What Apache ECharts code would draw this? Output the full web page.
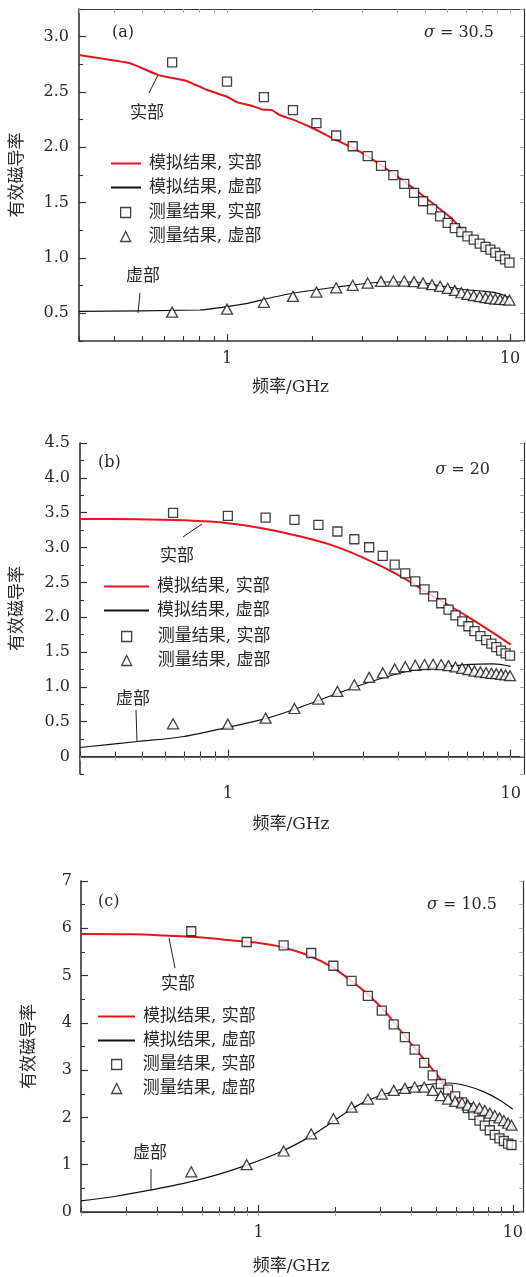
<!DOCTYPE html>
<html>
<head>
<meta charset="utf-8">
<script src="https://cdn.jsdelivr.net/npm/echarts@6/dist/echarts.min.js"></script>
<style>
html,body{margin:0;padding:0;background:#fff}
#chart{width:526px;height:1277px}
</style>
</head>
<body>
<div id="chart"></div>
<script>
// 名称
var NAMES = ['模拟结果, 实部', '模拟结果, 虚部', '测量结果, 实部', '测量结果, 虚部'];

// 刻度
var xMajorTicks = [1, 10];
var xMinorTicksAB = [0.3, 0.4, 0.5, 0.6, 0.7, 0.8, 0.9, 2, 3, 4, 5, 6, 7, 8, 9];
var xMinorTicksC = [0.2, 0.3, 0.4, 0.5, 0.6, 0.7, 0.8, 0.9, 2, 3, 4, 5, 6, 7, 8, 9];
var yMajorA = [0.5, 1.0, 1.5, 2.0, 2.5, 3.0];
var yMinorA = [0.25, 0.75, 1.25, 1.75, 2.25, 2.75, 3.25];
var yMajorB = [0, 0.5, 1.0, 1.5, 2.0, 2.5, 3.0, 3.5, 4.0, 4.5];
var yMinorB = [-0.25, 0.25, 0.75, 1.25, 1.75, 2.25, 2.75, 3.25, 3.75, 4.25];
var yMajorC = [0, 1, 2, 3, 4, 5, 6, 7];
var yMinorC = [0.5, 1.5, 2.5, 3.5, 4.5, 5.5, 6.5];

// (a) sigma = 30.5
var measFreqA = [0.64, 1.0, 1.35, 1.71, 2.07, 2.43, 2.78, 3.14, 3.50, 3.87, 4.23, 4.58, 4.93, 5.30, 5.66, 6.02, 6.38, 6.73, 7.07, 7.44, 7.81, 8.19, 8.52, 8.87, 9.22, 9.60, 9.95];
var measRealA = [2.768, 2.593, 2.454, 2.336, 2.219, 2.107, 2.01, 1.92, 1.833, 1.748, 1.67, 1.588, 1.513, 1.44, 1.377, 1.317, 1.27, 1.235, 1.196, 1.166, 1.13, 1.10, 1.075, 1.048, 1.018, 0.988, 0.958];
var measImagA = [0.511, 0.538, 0.60, 0.653, 0.692, 0.731, 0.753, 0.774, 0.789, 0.792, 0.792, 0.786, 0.774, 0.759, 0.744, 0.726, 0.707, 0.686, 0.671, 0.659, 0.65, 0.641, 0.635, 0.629, 0.626, 0.623, 0.62];
var simFreqRealA = [0.3, 0.366, 0.454, 0.572, 0.63, 0.72, 0.847, 1.0, 1.08, 1.24, 1.34, 1.44, 1.54, 1.71, 2.02, 2.37, 2.8, 3.12, 3.57, 4.08, 4.67, 5.35, 6.13, 6.65, 7.1];
var simRealA = [2.834, 2.80, 2.76, 2.653, 2.63, 2.60, 2.52, 2.457, 2.41, 2.37, 2.34, 2.336, 2.29, 2.25, 2.17, 2.08, 1.99, 1.923, 1.824, 1.72, 1.61, 1.49, 1.37, 1.28, 1.20];
var simFreqImagA = [0.3, 0.8, 1.0, 1.17, 1.38, 1.67, 2.07, 2.72, 3.57, 4.67, 5.82, 7.0, 8.05, 9.2, 10.0];
var simImagA = [0.517, 0.53, 0.56, 0.587, 0.632, 0.677, 0.713, 0.753, 0.783, 0.783, 0.744, 0.713, 0.70, 0.677, 0.638];

// (b) sigma = 20
var measFreqB = [0.64, 1.0, 1.36, 1.72, 2.09, 2.44, 2.80, 3.16, 3.53, 3.89, 4.24, 4.60, 4.96, 5.32, 5.68, 6.03, 6.38, 6.74, 7.09, 7.45, 7.82, 8.19, 8.55, 8.90, 9.25, 9.60, 9.95];
var measRealB = [3.498, 3.455, 3.43, 3.397, 3.325, 3.23, 3.119, 3.004, 2.879, 2.754, 2.63, 2.514, 2.40, 2.30, 2.20, 2.11, 2.025, 1.94, 1.87, 1.80, 1.73, 1.67, 1.62, 1.57, 1.52, 1.48, 1.45];
var measImagB = [0.47, 0.465, 0.552, 0.69, 0.825, 0.936, 1.03, 1.137, 1.20, 1.257, 1.29, 1.31, 1.32, 1.324, 1.32, 1.305, 1.286, 1.267, 1.248, 1.228, 1.214, 1.204, 1.195, 1.19, 1.18, 1.171, 1.161];
var simFreqRealB = [0.3, 0.47, 0.7, 1.0, 1.38, 1.81, 2.37, 3.1, 4.07, 5.34, 7.0, 8.67, 10.0];
var simRealB = [3.41, 3.407, 3.39, 3.35, 3.263, 3.157, 3.023, 2.83, 2.59, 2.30, 2.015, 1.775, 1.607];
var simFreqImagB = [0.3, 0.48, 0.7, 1.0, 1.38, 1.81, 2.37, 3.1, 4.07, 5.06, 5.63, 7.0, 8.67, 10.0];
var simImagB = [0.13, 0.216, 0.288, 0.42, 0.552, 0.71, 0.888, 1.056, 1.20, 1.27, 1.28, 1.32, 1.33, 1.295];

// (c) sigma = 10.5
var measFreqC = [0.543, 0.897, 1.254, 1.61, 1.968, 2.32, 2.69, 3.05, 3.40, 3.76, 4.11, 4.48, 4.84, 5.21, 5.56, 5.93, 6.31, 6.65, 7.0, 7.39, 7.76, 8.12, 8.49, 8.86, 9.22, 9.58, 9.88];
var measRealC = [5.937, 5.71, 5.64, 5.477, 5.208, 4.889, 4.57, 4.258, 3.968, 3.70, 3.436, 3.153, 2.89, 2.707, 2.586, 2.444, 2.317, 2.196, 2.055, 1.934, 1.828, 1.729, 1.63, 1.559, 1.502, 1.445, 1.417];
var measImagC = [0.85, 1.0, 1.29, 1.65, 1.977, 2.218, 2.388, 2.494, 2.572, 2.614, 2.643, 2.643, 2.572, 2.459, 2.388, 2.338, 2.31, 2.26, 2.225, 2.196, 2.147, 2.09, 2.04, 1.99, 1.934, 1.877, 1.835];
var simFreqRealC = [0.2, 0.32, 0.43, 0.58, 0.79, 1.0, 1.24, 1.58, 1.96, 2.34, 2.73, 3.17, 3.58, 4.16, 4.84, 5.63, 6.55, 7.62, 8.86, 10.0];
var simRealC = [5.88, 5.874, 5.845, 5.81, 5.74, 5.69, 5.60, 5.42, 5.17, 4.87, 4.57, 4.216, 3.86, 3.436, 3.01, 2.586, 2.196, 1.863, 1.594, 1.417];
var simFreqImagC = [0.2, 0.274, 0.371, 0.502, 0.679, 0.897, 1.24, 1.61, 1.96, 2.32, 2.69, 3.08, 3.58, 4.16, 4.84, 5.63, 6.55, 7.62, 8.86, 10.0];
var simImagC = [0.234, 0.333, 0.46, 0.60, 0.78, 0.99, 1.29, 1.61, 1.913, 2.18, 2.36, 2.48, 2.586, 2.657, 2.707, 2.728, 2.67, 2.55, 2.37, 2.175];

var SERIF = '"DejaVu Serif", "Noto Sans CJK SC", serif';
var TXT = '#2a2a2a';

function pairs(xs, ys) {
  return xs.map(function (x, i) { return [x, ys[i]]; });
}

var panels = [
  {
    grid: {left: 79, top: 9, width: 445, height: 332},
    xMin: 0.3, xMax: 11.2, xMinor: xMinorTicksAB,
    yMin: 0.25, yMax: 3.25, yMajor: yMajorA, yMinor: yMinorA,
    yFmt: function (v) { return v.toFixed(1); },
    xMargin: 10, xNameGap: 38, yNameGap: 53, yMargin: 10,
    legend: {left: 110, top: 155, itemWidth: 30, mLeft: 120, mTop: 204, mPad: 13},
    simReal: pairs(simFreqRealA, simRealA), simImag: pairs(simFreqImagA, simImagA),
    measReal: pairs(measFreqA, measRealA), measImag: pairs(measFreqA, measImagA),
    smooth: 0.15
  },
  {
    grid: {left: 80, top: 443, width: 444, height: 331},
    xMin: 0.3, xMax: 11.15, xMinor: xMinorTicksAB,
    yMin: -0.25, yMax: 4.5, yMajor: yMajorB, yMinor: yMinorB,
    yFmt: function (v) { return v === 0 ? '0' : v.toFixed(1); },
    xMargin: 12, xNameGap: 42, yNameGap: 54, yMargin: 10,
    legend: {left: 103, top: 578, itemWidth: 45, mLeft: 121, mTop: 628, mPad: 21},
    simReal: pairs(simFreqRealB, simRealB), simImag: pairs(simFreqImagB, simImagB),
    measReal: pairs(measFreqB, measRealB), measImag: pairs(measFreqB, measImagB),
    smooth: 0.3
  },
  {
    grid: {left: 81, top: 881, width: 443, height: 331},
    xMin: 0.2, xMax: 11, xMinor: xMinorTicksC,
    yMin: 0, yMax: 7, yMajor: yMajorC, yMinor: yMinorC,
    yFmt: function (v) { return String(v); },
    xMargin: 13, xNameGap: 46, yNameGap: 43, yMargin: 9,
    legend: {left: 97, top: 1008, itemWidth: 37, mLeft: 111, mTop: 1056, mPad: 16},
    simReal: pairs(simFreqRealC, simRealC), simImag: pairs(simFreqImagC, simImagC),
    measReal: pairs(measFreqC, measRealC), measImag: pairs(measFreqC, measImagC),
    smooth: 0.3
  }
];

var grids = [], xAxes = [], yAxes = [], series = [], legends = [];

panels.forEach(function (p, i) {
  grids.push(p.grid);
  var allX = xMajorTicks.concat(p.xMinor);
  var allY = p.yMajor.concat(p.yMinor);
  // 下轴（标签 + 主刻度）
  xAxes.push({
    gridIndex: i, type: 'log', logBase: 10, min: p.xMin, max: p.xMax, position: 'bottom',
    axisLine: {lineStyle: {color: '#333', width: 1.6}},
    axisTick: {inside: true, length: 7, customValues: xMajorTicks, lineStyle: {color: '#333', width: 1.2}},
    axisLabel: {customValues: xMajorTicks, formatter: function (v) { return String(v); },
      fontFamily: SERIF, fontSize: 16, color: TXT, margin: p.xMargin},
    splitLine: {show: false},
    name: '频率/GHz', nameLocation: 'middle', nameGap: p.xNameGap,
    nameTextStyle: {fontFamily: SERIF, fontSize: 17, color: TXT, padding: [0, 22, 0, 0]}
  });
  // 下轴次刻度
  xAxes.push({
    gridIndex: i, type: 'log', logBase: 10, min: p.xMin, max: p.xMax, position: 'bottom',
    axisLine: {show: false},
    axisTick: {inside: true, length: 5, customValues: p.xMinor, lineStyle: {color: '#333', width: 1.1}},
    axisLabel: {show: false}, splitLine: {show: false}
  });
  // 上轴
  xAxes.push({
    gridIndex: i, type: 'log', logBase: 10, min: p.xMin, max: p.xMax, position: 'top',
    axisLine: {lineStyle: {color: '#333', width: 1.2}},
    axisTick: {inside: true, length: 4, customValues: allX, lineStyle: {color: '#aaa', width: 1}},
    axisLabel: {show: false}, splitLine: {show: false}
  });

  yAxes.push({
    gridIndex: i, type: 'value', min: p.yMin, max: p.yMax, position: 'left',
    axisLine: {show: true, lineStyle: {color: '#333', width: 1.6}},
    axisTick: {show: true, inside: true, length: 7, customValues: p.yMajor, lineStyle: {color: '#333', width: 1.2}},
    axisLabel: {customValues: p.yMajor, formatter: p.yFmt, fontFamily: SERIF, fontSize: 16, color: TXT, margin: p.yMargin},
    splitLine: {show: false},
    name: '有效磁导率', nameLocation: 'middle', nameGap: p.yNameGap,
    nameTextStyle: {fontFamily: SERIF, fontSize: 17, color: TXT}
  });
  yAxes.push({
    gridIndex: i, type: 'value', min: p.yMin, max: p.yMax, position: 'left',
    axisLine: {show: false},
    axisTick: {show: true, inside: true, length: 4, customValues: p.yMinor, lineStyle: {color: '#333', width: 1.1}},
    axisLabel: {show: false}, splitLine: {show: false}
  });
  yAxes.push({
    gridIndex: i, type: 'value', min: p.yMin, max: p.yMax, position: 'right',
    axisLine: {show: true, lineStyle: {color: '#333', width: 1.2}},
    axisTick: {show: true, inside: true, length: 4, customValues: allY, lineStyle: {color: '#aaa', width: 1}},
    axisLabel: {show: false}, splitLine: {show: false}
  });

  var xi = 3 * i, yi = 3 * i;
  series.push({
    name: NAMES[0], type: 'line', xAxisIndex: xi, yAxisIndex: yi, data: p.simReal,
    symbol: 'none', smooth: p.smooth, z: 2,
    lineStyle: {color: '#e8141c', width: 2}, itemStyle: {color: '#e8141c'}
  });
  series.push({
    name: NAMES[1], type: 'line', xAxisIndex: xi, yAxisIndex: yi, data: p.simImag,
    symbol: 'none', smooth: p.smooth, z: 2,
    lineStyle: {color: '#111', width: 1.2}, itemStyle: {color: '#111'}
  });
  series.push({
    name: NAMES[2], type: 'scatter', xAxisIndex: xi, yAxisIndex: yi, data: p.measReal,
    symbol: 'rect', symbolSize: 9, z: 3,
    itemStyle: {color: '#fff', borderColor: '#111', borderWidth: 1.3}
  });
  series.push({
    name: NAMES[3], type: 'scatter', xAxisIndex: xi, yAxisIndex: yi, data: p.measImag,
    symbol: 'triangle', symbolSize: [11, 10], z: 3,
    itemStyle: {color: '#fff', borderColor: '#111', borderWidth: 1.3}
  });

  // 图例：线条
  legends.push({
    orient: 'vertical', left: p.legend.left, top: p.legend.top, padding: 0,
    itemWidth: p.legend.itemWidth, itemHeight: 10, itemGap: 7,
    selectedMode: false,
    data: [
      {name: NAMES[0], itemStyle: {opacity: 0}},
      {name: NAMES[1], itemStyle: {opacity: 0}}
    ],
    textStyle: {fontFamily: SERIF, fontSize: 17, color: TXT, padding: [0, 0, 0, 3]}
  });
  // 图例：测量点
  legends.push({
    orient: 'vertical', left: p.legend.mLeft, top: p.legend.mTop, padding: 0,
    itemWidth: 10, itemHeight: 10, itemGap: 7,
    selectedMode: false,
    data: [
      {name: NAMES[2], icon: 'rect', itemStyle: {borderWidth: 1.3}},
      {name: NAMES[3], icon: 'triangle', itemStyle: {borderWidth: 1.3}}
    ],
    textStyle: {fontFamily: SERIF, fontSize: 17, color: TXT, padding: [0, 0, 0, p.legend.mPad]}
  });
});

function txt(x, y, text, align, extra) {
  var style = {x: x, y: y, text: text, align: align || 'center', verticalAlign: 'middle',
    font: '17px "DejaVu Serif", "Noto Sans CJK SC", serif', fill: TXT};
  if (extra) for (var k in extra) style[k] = extra[k];
  return {type: 'text', silent: true, style: style};
}
function sigma(x, y, val) {
  return txt(x, y, '{i|σ} = ' + val, 'right', {
    font: '16px "DejaVu Serif", serif',
    rich: {i: {fontStyle: 'italic', fontFamily: 'DejaVu Serif', fontSize: 16, fill: TXT}}
  });
}
function lead(x1, y1, x2, y2) {
  return {type: 'line', silent: true, shape: {x1: x1, y1: y1, x2: x2, y2: y2}, style: {stroke: '#222', lineWidth: 1}};
}

var graphics = [
  txt(112, 33, '(a)', 'left', {font: '16px "DejaVu Serif", serif'}),
  sigma(494, 33, '30.5'),
  txt(147, 114, '实部'), lead(149, 93, 158, 75),
  txt(143, 277, '虚部'), lead(140, 293, 138, 313),

  txt(98, 463, '(b)', 'left', {font: '16px "DejaVu Serif", serif'}),
  sigma(490, 470, '20'),
  txt(177, 557, '实部'), lead(183, 537, 202, 524),
  txt(133, 700, '虚部'), lead(136, 710, 137, 742),

  txt(98, 902, '(c)', 'left', {font: '16px "DejaVu Serif", serif'}),
  sigma(497, 905, '10.5'),
  txt(178, 985, '实部'), lead(169, 938, 175, 968),
  txt(150, 1154, '虚部'), lead(151, 1169, 151, 1190)
];

var chart = echarts.init(document.getElementById('chart'));
chart.setOption({
  animation: false,
  backgroundColor: '#fff',
  grid: grids,
  xAxis: xAxes,
  yAxis: yAxes,
  legend: legends,
  series: series,
  graphic: graphics
});
</script>
</body>
</html>
